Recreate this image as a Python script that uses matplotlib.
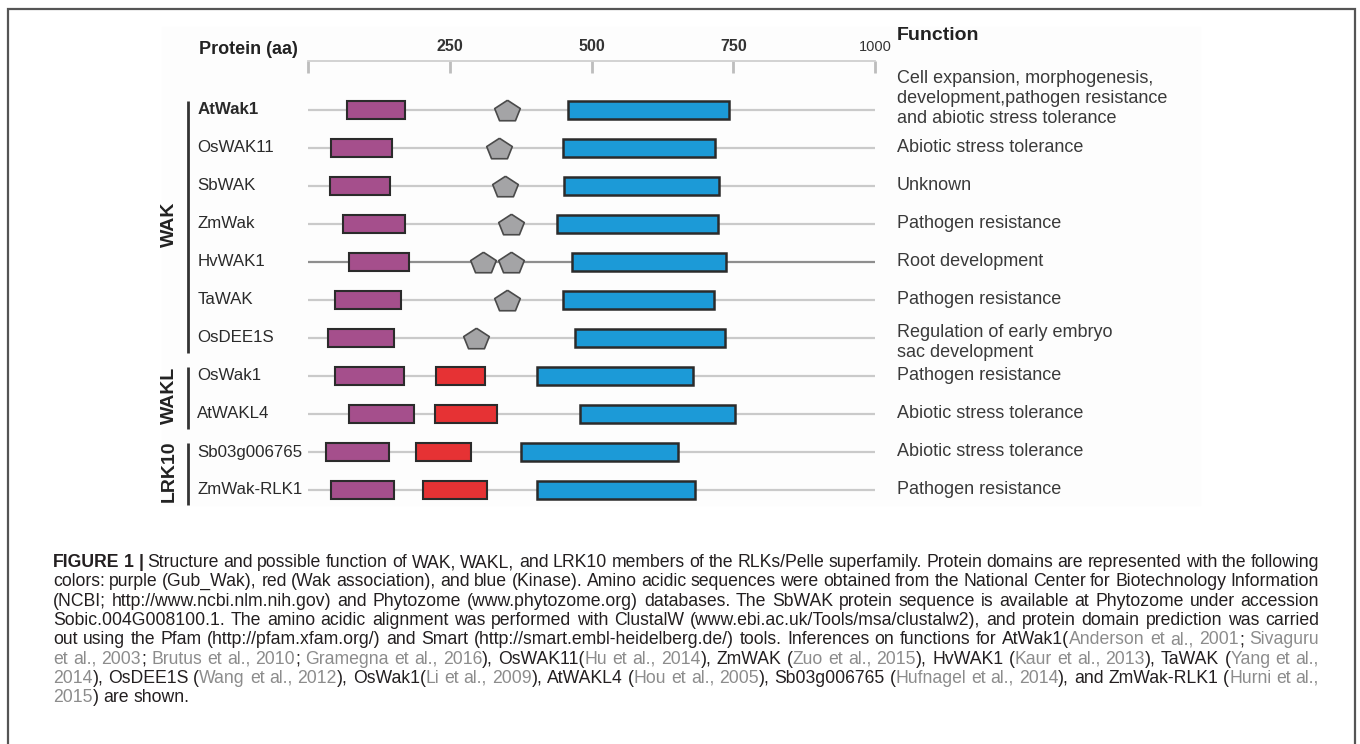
import matplotlib
matplotlib.use("Agg")
import matplotlib.pyplot as plt
import matplotlib.patches as mpatches
import matplotlib.transforms as mtransforms
import numpy as np

NARROW = ["Liberation Sans Narrow", "Liberation Sans", "DejaVu Sans"]
SANS = ["Liberation Sans", "DejaVu Sans"]

W, H = 1360, 744

# protein rows, top to bottom
proteins = ["AtWak1", "OsWAK11", "SbWAK", "ZmWak", "HvWAK1", "TaWAK", "OsDEE1S",
            "OsWak1", "AtWAKL4", "Sb03g006765", "ZmWak-RLK1"]
# domain boundaries in aa
gub_start = [69, 41, 39, 62, 72, 48, 35, 48, 72, 32, 41]
gub_end = [171, 148, 145, 171, 178, 164, 152, 169, 187, 143, 152]
wa_start = [np.nan] * 7 + [226, 224, 190, 203]
wa_end = [np.nan] * 7 + [312, 333, 287, 316]
kin_start = [459, 450, 451, 439, 466, 450, 471, 404, 480, 376, 404]
kin_end = [742, 718, 725, 723, 737, 716, 735, 679, 753, 653, 683]
egf_sites = [[351], [337], [347], [358], [309, 358], [351], [296], [], [], [], []]
functions = [
    "Cell expansion, morphogenesis,\ndevelopment,pathogen resistance\nand abiotic stress tolerance",
    "Abiotic stress tolerance",
    "Unknown",
    "Pathogen resistance",
    "Root development",
    "Pathogen resistance",
    "Regulation of early embryo\nsac development",
    "Pathogen resistance",
    "Abiotic stress tolerance",
    "Abiotic stress tolerance",
    "Pathogen resistance",
]
groups = [("WAK", 0, 6), ("WAKL", 7, 8), ("LRK10", 9, 10)]
axis_ticks = [0, 250, 500, 750, 1000]
axis_labels = ["", "250", "500", "750", "1000"]
protein_length = 1000

COLORS = {
    "gub": "#a54f8c",
    "wa": "#e63234",
    "kinase": "#1c9ad7",
    "egf": "#a4a4a6",
    "line": "#cacaca",
    "edge": "#2b2b2b",
    "text": "#2a2a2a",
}

K, G = "#231f20", "#8c8c8c"
caption = [
    [("FIGURE 1 |", K, "bold"),
     (" Structure and possible function of WAK, WAKL, and LRK10 members of the RLKs/Pelle superfamily. "
      "Protein domains are represented with the following", K, "normal")],
    [("colors: purple (Gub_Wak), red (Wak association), and blue (Kinase). Amino acidic sequences were "
      "obtained from the National Center for Biotechnology Information", K, "normal")],
    [("(NCBI; http://www.ncbi.nlm.nih.gov) and Phytozome (www.phytozome.org) databases. The SbWAK protein "
      "sequence is available at Phytozome under accession", K, "normal")],
    [("Sobic.004G008100.1. The amino acidic alignment was performed with ClustalW "
      "(www.ebi.ac.uk/Tools/msa/clustalw2), and protein domain prediction was carried", K, "normal")],
    [("out using the Pfam (http://pfam.xfam.org/) and Smart (http://smart.embl-heidelberg.de/) tools. "
      "Inferences on functions for AtWak1(", K, "normal"),
     ("Anderson et al., 2001", G, "normal"), ("; ", K, "normal"), ("Sivaguru", G, "normal")],
    [("et al., 2003", G, "normal"), ("; ", K, "normal"), ("Brutus et al., 2010", G, "normal"),
     ("; ", K, "normal"), ("Gramegna et al., 2016", G, "normal"), ("), OsWAK11(", K, "normal"),
     ("Hu et al., 2014", G, "normal"), ("), ZmWAK (", K, "normal"), ("Zuo et al., 2015", G, "normal"),
     ("), HvWAK1 (", K, "normal"), ("Kaur et al., 2013", G, "normal"), ("), TaWAK (", K, "normal"),
     ("Yang et al.,", G, "normal")],
    [("2014", G, "normal"), ("), OsDEE1S (", K, "normal"), ("Wang et al., 2012", G, "normal"),
     ("), OsWak1(", K, "normal"), ("Li et al., 2009", G, "normal"), ("), AtWAKL4 (", K, "normal"),
     ("Hou et al., 2005", G, "normal"), ("), Sb03g006765 (", K, "normal"),
     ("Hufnagel et al., 2014", G, "normal"), ("), and ZmWak-RLK1 (", K, "normal"),
     ("Hurni et al.,", G, "normal")],
    [("2015", G, "normal"), (") are shown.", K, "normal")],
]


def fx(px):
    return px / W


def fy(py):
    return 1 - py / H


def split_words(segments):
    words, cur = [], []
    for text, color, weight in segments:
        for j, part in enumerate(text.split(" ")):
            if j > 0 and cur:
                words.append(cur)
                cur = []
            if part:
                cur.append((part, color, weight))
    if cur:
        words.append(cur)
    return words


def draw_caption(fig, lines, x0, x1, y_first, step, size):
    # justified caption, one Text per coloured chunk
    r = fig.canvas.get_renderer()
    style = dict(fontsize=size, family=NARROW, va="baseline", transform=fig.transFigure)
    a = fig.text(0, 0, "aa", **style)
    b = fig.text(0, 0, "a a", **style)
    space = (b.get_window_extent(r).width - a.get_window_extent(r).width) / W
    a.remove()
    b.remove()
    for k, segs in enumerate(lines):
        y = fy(y_first + k * step)
        words = split_words(segs)
        placed = []
        total = 0
        for word in words:
            arts, w = [], 0
            for chunk, color, weight in word:
                t = fig.text(0, y, chunk, color=color, fontweight=weight, **style)
                cw = t.get_window_extent(r).width / W
                arts.append((t, w))
                w += cw
            placed.append((arts, w))
            total += w
        last = k == len(lines) - 1
        gap = space if last or len(words) < 2 else (x1 - x0 - total) / (len(words) - 1)
        x = x0
        for arts, w in placed:
            for t, off in arts:
                t.set_x(x + off)
            x += w + gap


fig = plt.figure(figsize=(W / 100, H / 100), dpi=100)

# faint background of the embedded figure panel and the outer frame
fig.patches.append(mpatches.Rectangle((fx(162), fy(505)), fx(1200 - 162), 478 / H,
                                      transform=fig.transFigure, color="#fdfdfd", zorder=-5))
fig.patches.append(mpatches.Rectangle((fx(8), -0.05), fx(1355 - 8), fy(9) + 0.05,
                                      transform=fig.transFigure, fill=False,
                                      edgecolor="#555555", linewidth=1.6, zorder=10))

ax = fig.add_axes([fx(308), fy(509), 567 / W, 418 / H])
ax.set_xlim(0, protein_length)
ax.set_ylim(len(proteins) - 0.5, -0.5)
ax.axis("off")

rows = np.arange(len(proteins))
line_colors = [COLORS["line"]] * len(proteins)
line_colors[proteins.index("HvWAK1")] = "#8e8e8e"
ax.hlines(rows, 0, protein_length, colors=line_colors, linewidth=1.6, zorder=1)

box_h = 0.45
gs, ge = np.array(gub_start), np.array(gub_end)
ws, we = np.array(wa_start), np.array(wa_end)
ks, ke = np.array(kin_start), np.array(kin_end)
ax.barh(rows, ge - gs, left=gs, height=box_h, color=COLORS["gub"],
        edgecolor=COLORS["edge"], linewidth=1.5, zorder=3)
ax.barh(rows, we - ws, left=ws, height=box_h, color=COLORS["wa"],
        edgecolor=COLORS["edge"], linewidth=1.5, zorder=3)
ax.barh(rows, ke - ks, left=ks, height=box_h, color=COLORS["kinase"],
        edgecolor=COLORS["edge"], linewidth=1.8, zorder=3)

pent = [(0, 0.8), (1, 0.15), (0.62, -0.8), (-0.62, -0.8), (-1, 0.15), (0, 0.8)]
ex = [x for sites in egf_sites for x in sites]
ey = [i for i, sites in enumerate(egf_sites) for _ in sites]
ax.scatter(ex, ey, marker=pent, s=340, color=COLORS["egf"], edgecolor="#4a4a4a",
           linewidth=1.2, zorder=4)

lbl = mtransforms.blended_transform_factory(ax.transAxes, ax.transData)
for i, name in enumerate(proteins):
    ax.text(-0.195, i, name, transform=lbl, ha="left", va="center", fontsize=12.2,
            family=NARROW, color=COLORS["text"],
            fontweight="bold" if i == 0 else "normal")
    n_lines = functions[i].count("\n") + 1
    y = i - 0.3 if n_lines == 3 else i + (0.12 if n_lines == 2 else 0)
    ax.text(1.039, y, functions[i], transform=lbl, ha="left", va="center", fontsize=13,
            family=SANS, color="#3a3a3a", linespacing=1.22)

for name, first, last in groups:
    ax.plot([-0.2116, -0.2116], [first - 0.24, last + 0.4], transform=lbl, color="#333333",
            linewidth=2, clip_on=False, solid_capstyle="butt")
    ax.text(-0.245, (first + last) / 2, name, transform=lbl, rotation=90, ha="center",
            va="center", fontsize=14, fontweight="bold", family=SANS, color="#222222")

# ruler on top
rax = fig.add_axes([fx(308), fy(73), 567 / W, 12 / H])
rax.set_xlim(0, protein_length)
rax.patch.set_visible(False)
for side in ("left", "right", "bottom"):
    rax.spines[side].set_visible(False)
rax.spines["top"].set_color("#cfcfcf")
rax.spines["top"].set_linewidth(1.3)
rax.xaxis.tick_top()
rax.set_xticks(axis_ticks)
rax.set_xticklabels(axis_labels, family=NARROW, fontweight="bold", color="#333333")
rax.tick_params(axis="x", direction="in", length=8.6, width=2, color="#bdbdbd",
                pad=5, labelsize=11.5)
rax.get_xticklabels()[-1].set_fontweight("normal")
rax.get_xticklabels()[-1].set_fontsize(10.5)
rax.set_yticks([])

fig.text(fx(199), fy(50), "Protein (aa)", ha="left", va="center", fontsize=13,
         fontweight="bold", family=NARROW, color="#222222")
fig.text(fx(897), fy(35), "Function", ha="left", va="center", fontsize=14,
         fontweight="bold", family=SANS, color="#222222")

draw_caption(fig, caption, fx(53), fx(1319), 567, 19.3, 12.7)

fig.savefig("out.png", dpi=100)
